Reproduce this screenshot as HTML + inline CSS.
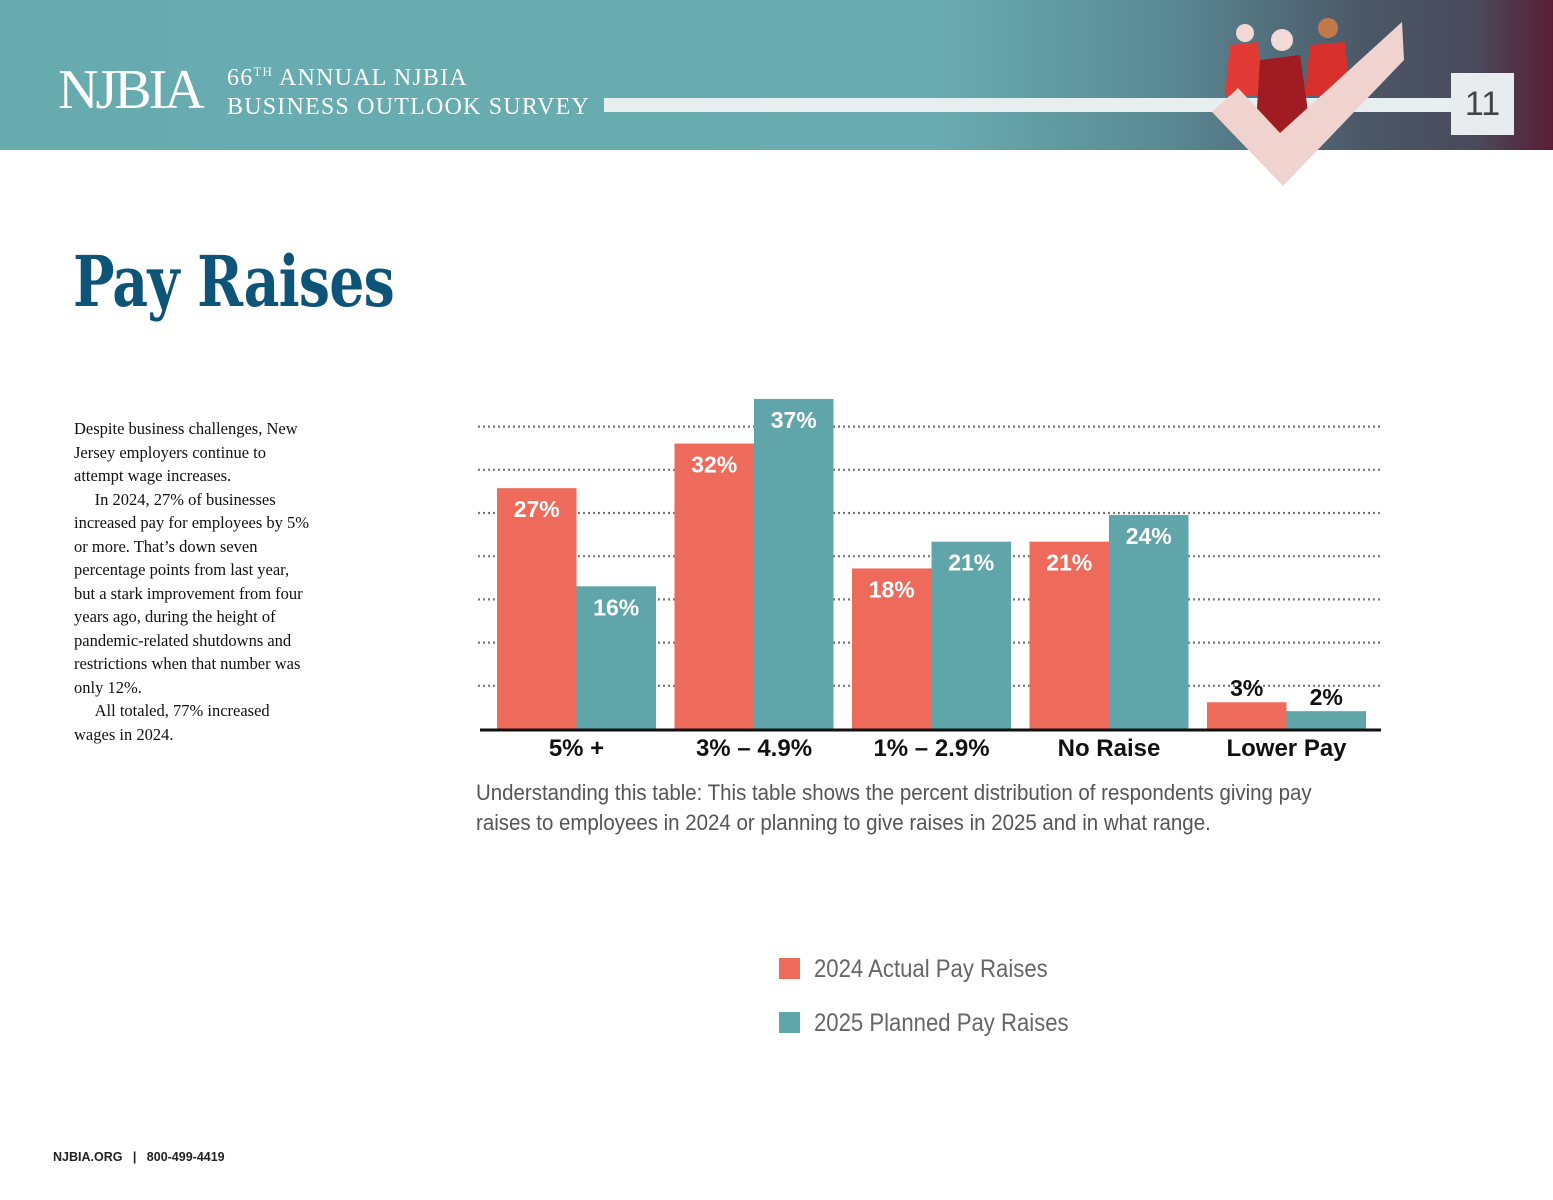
<!DOCTYPE html>
<html><head><meta charset="utf-8"><style>
body{margin:0;width:1553px;height:1200px;position:relative;background:#fff;overflow:hidden;font-family:"Liberation Sans",sans-serif}
.abs{position:absolute}
</style></head><body>
<div class="abs" style="left:0;top:0;width:1553px;height:150px;background:linear-gradient(90deg,#67abaf 0%,#6aacb1 60%,#5a8a94 75%,#4b5766 88%,#4a4a5c 95%,#5a1e34 100%)"></div>
<div class="abs" style="left:58px;top:58px;font-family:'Liberation Serif',serif;font-size:56px;color:#fff;letter-spacing:-3px;line-height:64px">NJBIA</div>
<div class="abs" style="left:227px;top:57px;font-family:'Liberation Serif',serif;font-size:24px;color:#fff;line-height:29px;letter-spacing:1.2px">66<sup style="font-size:13px">TH</sup> ANNUAL NJBIA<br>BUSINESS OUTLOOK SURVEY</div>
<div class="abs" style="left:604px;top:98px;width:860px;height:14px;background:#e6eef0"></div>
<svg class="abs" style="left:0;top:0" width="1553" height="210">
<g>
<path d="M1225 95 L1230 45 L1258 42 L1262 95Z" fill="#e23a35"/>
<circle cx="1245" cy="33" r="9" fill="#f3d8d4"/>
<path d="M1305 95 L1310 45 L1345 42 L1350 95Z" fill="#d8302d"/>
<circle cx="1328" cy="28" r="10" fill="#c27a4a"/>
<path d="M1255 140 L1260 60 L1300 55 L1312 140Z" fill="#a01c22"/>
<circle cx="1282" cy="40" r="11" fill="#f3dcd8"/>
</g>
<polygon points="1212,112 1238,88 1280,133 1402,22 1404,60 1283,186" fill="#f0d2cf"/>
</svg>
<div class="abs" style="left:1451px;top:73px;width:63px;height:62px;background:#e9ecef;color:#444;font-size:34px;text-align:center;line-height:62px">11</div>

<div class="abs" style="left:73px;top:240px;font-family:'DejaVu Serif','Liberation Serif',serif;font-weight:bold;font-size:70px;color:#0e5478;letter-spacing:-1px;transform:scaleX(0.79);transform-origin:left">Pay Raises</div>

<div class="abs" style="left:74px;top:417px;width:238px;font-family:'Liberation Serif',serif;font-size:16.5px;line-height:23.5px;color:#111">Despite business challenges, New Jersey employers continue to attempt wage increases.<br>&emsp;&nbsp;In 2024, 27% of businesses increased pay for employees by 5% or more. That’s down seven percentage points from last year, but a stark improvement from four years ago, during the height of pandemic-related shutdowns and restrictions when that num­ber was only 12%.<br>&emsp;&nbsp;All totaled, 77% increased wages in 2024.</div>

<svg class="abs" id="chart" style="left:0;top:0" width="1553" height="780"></svg>

<div class="abs" style="left:476px;top:778px;width:900px;font-size:22px;line-height:30px;color:#555;transform:scaleX(0.93);transform-origin:left">Understanding this table: This table shows the percent distribution of respondents giving pay raises to employees in 2024 or planning to give raises in 2025 and in what range.</div>

<div class="abs" style="left:779px;top:954px;font-size:25px;color:#666;line-height:30px"><span style="display:inline-block;width:21px;height:21px;background:#ee6b5c;vertical-align:-2px;margin-right:14px"></span><span style="display:inline-block;transform:scaleX(0.885);transform-origin:left">2024 Actual Pay Raises</span></div>
<div class="abs" style="left:779px;top:1008px;font-size:25px;color:#666;line-height:30px"><span style="display:inline-block;width:21px;height:21px;background:#5fa5aa;vertical-align:-2px;margin-right:14px"></span><span style="display:inline-block;transform:scaleX(0.885);transform-origin:left">2025 Planned Pay Raises</span></div>

<div class="abs" style="left:53px;top:1150px;font-size:12.5px;font-weight:bold;color:#222">NJBIA.ORG &nbsp;&nbsp;|&nbsp;&nbsp; 800-499-4419</div>

<script>
const categories = ["5% +", "3% – 4.9%", "1% – 2.9%", "No Raise", "Lower Pay"];
const actual2024 = [27, 32, 18, 21, 3];
const planned2025 = [16, 37, 21, 24, 2];
const svg = document.getElementById('chart');
const NS = 'http://www.w3.org/2000/svg';
const baseY = 729, pxPer = 8.92, x0 = 497, step = 177.5, barW = 79.5;
const y = v => baseY - v * pxPer;
const xg = i => x0 + i * step;
function mk(tag, attrs){const e=document.createElementNS(NS,tag);for(const k in attrs)e.setAttribute(k,attrs[k]);svg.appendChild(e);return e;}
for(let g=1; g<=7; g++){
  const gy = baseY - g*43.2;
  const l = mk('line',{x1:478,x2:1383,y1:gy,y2:gy,stroke:'#777','stroke-width':2.2,'stroke-dasharray':'2 3'});
  
  
}
const series = [{vals:actual2024,color:'#ee6b5c',off:0,name:'2024'},{vals:planned2025,color:'#5fa5aa',off:barW,name:'2025'}];
categories.forEach((c,i)=>{
  series.forEach(s=>{
    const v = s.vals[i];
    const bx = xg(i)+s.off;
    const r = mk('rect',{x:bx,y:y(v),width:barW,height:baseY-y(v),fill:s.color});
    
    
    const small = v < 6;
    const t = mk('text',{x:bx+barW/2,y:small? y(v)-6 : y(v)+29,'text-anchor':'middle','font-size':23,'font-weight':'bold',fill:small?'#111':'#fff','font-family':'Liberation Sans, sans-serif'});
    t.textContent = v+'%';
    
    
  });
  const lt = mk('text',{x:xg(i)+barW,y:756,'text-anchor':'middle','font-size':24,'font-weight':'bold',fill:'#111','font-family':'Liberation Sans, sans-serif'});
  lt.textContent = c;
  
  
});
const ax = mk('line',{x1:480,x2:1381,y1:baseY+1,y2:baseY+1,stroke:'#111','stroke-width':3});


</script>
</body></html>
